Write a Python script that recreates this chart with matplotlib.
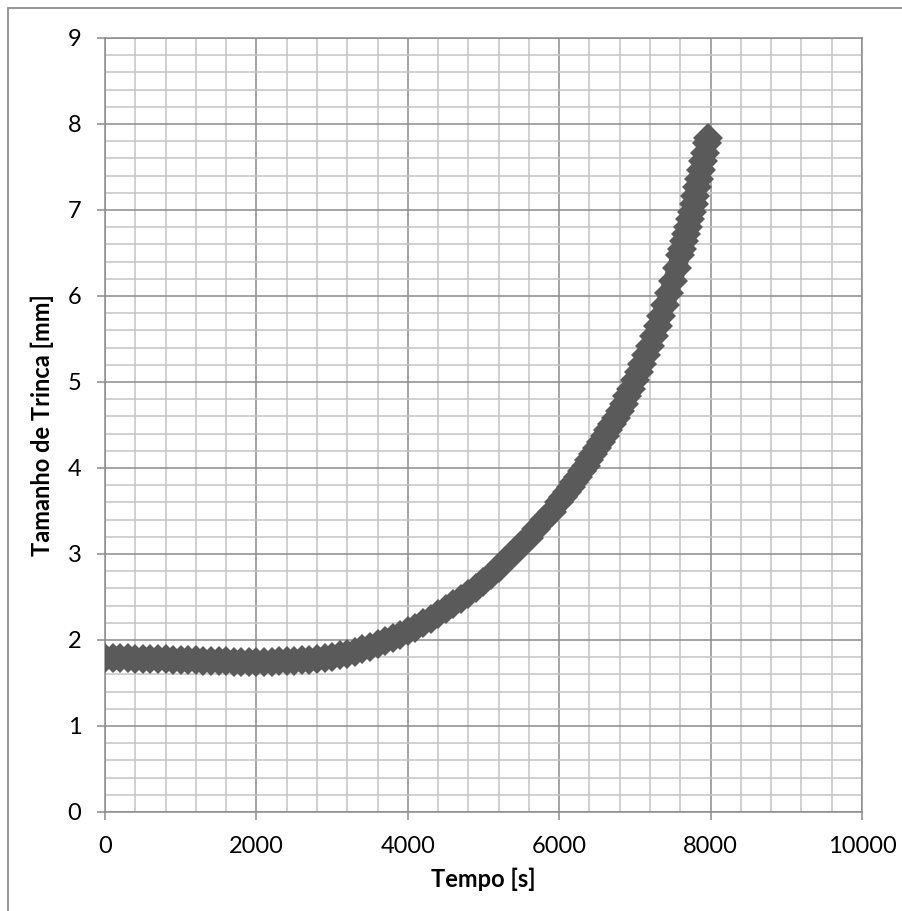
import matplotlib
matplotlib.use("Agg")
import matplotlib.pyplot as plt
from matplotlib.patches import Rectangle
from matplotlib.ticker import MultipleLocator

# crack size [mm] vs time [s]
tempo = [
    0, 100, 200, 300, 400, 500, 600, 700, 800, 900,
    1000, 1100, 1200, 1300, 1400, 1500, 1600, 1700, 1800, 1900,
    2000, 2100, 2200, 2300, 2400, 2500, 2600, 2700, 2800, 2900,
    3000, 3100, 3200, 3300, 3400, 3500, 3600, 3700, 3800, 3900,
    4000, 4100, 4200, 4300, 4400, 4500, 4600, 4700, 4800, 4900,
    5000, 5100, 5200, 5300, 5400, 5500, 5600, 5700, 5800, 5900,
    6000, 6050, 6100, 6150, 6200, 6250, 6300, 6350, 6400, 6450,
    6500, 6550, 6600, 6650, 6700, 6750, 6800, 6850, 6900, 6950,
    7000, 7050, 7100, 7150, 7200, 7250, 7300, 7350, 7400, 7450,
    7500, 7550, 7600, 7625, 7650, 7675, 7700, 7725, 7750, 7775,
    7800, 7825, 7850, 7875, 7900, 7925, 7950, 7970,
]
trinca = [
    1.790, 1.790, 1.785, 1.785, 1.780, 1.780, 1.780, 1.775, 1.775, 1.770,
    1.770, 1.765, 1.765, 1.760, 1.760, 1.755, 1.755, 1.750, 1.750, 1.750,
    1.750, 1.750, 1.750, 1.755, 1.755, 1.760, 1.765, 1.770, 1.775, 1.785,
    1.800, 1.820, 1.840, 1.865, 1.890, 1.920, 1.950, 1.985, 2.020, 2.060,
    2.100, 2.145, 2.195, 2.245, 2.300, 2.355, 2.415, 2.475, 2.540, 2.610,
    2.680, 2.760, 2.840, 2.925, 3.010, 3.100, 3.190, 3.290, 3.390, 3.490,
    3.600, 3.660, 3.720, 3.780, 3.840, 3.900, 3.960, 4.025, 4.090, 4.160,
    4.230, 4.300, 4.370, 4.440, 4.510, 4.585, 4.660, 4.745, 4.833, 4.924,
    5.018, 5.115, 5.215, 5.318, 5.424, 5.534, 5.650, 5.772, 5.900, 6.034,
    6.174, 6.320, 6.472, 6.552, 6.634, 6.718, 6.804, 6.892, 6.982, 7.074,
    7.168, 7.264, 7.362, 7.462, 7.564, 7.668, 7.774, 7.840,
]

GRID_MAJOR = "#8c8c8c"
GRID_MINOR = "#c4c4c4"
MARK = "#5a5a5a"

plt.rcParams["font.family"] = ["Lato", "DejaVu Sans"]

fig = plt.figure(figsize=(9.03, 9.11), dpi=100)
ax = fig.add_axes([105 / 903, 99 / 911, 757 / 903, 774 / 911])

# dense diamonds, with a band underneath so the overlapping markers read as one stroke
ax.plot(tempo, trinca, linestyle="-", linewidth=14, solid_capstyle="butt",
        solid_joinstyle="round", marker="D", markersize=15,
        markerfacecolor=MARK, markeredgewidth=0, color=MARK, zorder=3)

ax.set_xlim(0, 10000)
ax.set_ylim(0, 9)
ax.xaxis.set_major_locator(MultipleLocator(2000))
ax.xaxis.set_minor_locator(MultipleLocator(400))
ax.yaxis.set_major_locator(MultipleLocator(1))
ax.yaxis.set_minor_locator(MultipleLocator(0.2))

ax.grid(which="minor", color=GRID_MINOR, linewidth=1.1)
ax.grid(which="major", color=GRID_MAJOR, linewidth=1.1)
ax.set_axisbelow(True)

ax.tick_params(which="major", direction="out", length=6, width=1.1,
               color=GRID_MAJOR, labelsize=17, pad=11)
ax.tick_params(which="minor", length=0)
for sp in ax.spines.values():
    sp.set_color(GRID_MAJOR)
    sp.set_linewidth(1.1)

ax.set_xlabel("Tempo [s]", fontsize=17, fontweight="bold", labelpad=8)
ax.set_ylabel("Tamanho de Trinca [mm]", fontsize=17, fontweight="bold", labelpad=10)

# chart area frame
fig.patches.append(Rectangle((8 / 903, -0.05), 1.2, 1 - 8 / 911 + 0.05,
                             transform=fig.transFigure, fill=False,
                             edgecolor=GRID_MAJOR, linewidth=1.3))

fig.savefig("out.png", dpi=100)
